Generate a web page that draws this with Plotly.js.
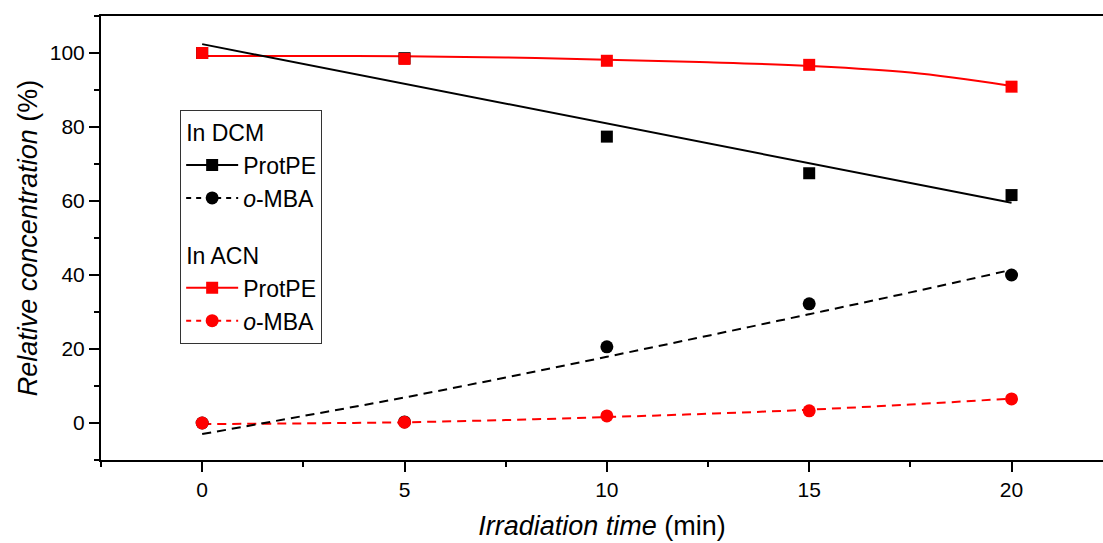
<!DOCTYPE html>
<html>
<head>
<meta charset="utf-8">
<script src="https://cdn.plot.ly/plotly-3.0.1.min.js"></script>
<style>html,body{margin:0;padding:0;background:#fff;}#chart{width:1103px;height:543px;}</style>
</head>
<body>
<div id="chart"></div>
<script>
// Measured data (irradiation time in min, relative concentration in %)
const timeMin = [0, 5, 10, 15, 20];
const dcmProtPE = [100, 98.6, 77.4, 67.5, 61.6];
const dcmMBA = [0, 0.3, 20.6, 32.2, 40.0];
const acnProtPE = [100, 98.4, 97.9, 96.8, 90.9];
const acnMBA = [0, 0.2, 1.9, 3.3, 6.5];

// Fitted curves
const fitX = [0, 2.5, 5, 7.5, 10, 12.5, 15, 17.5, 20];
const fitLinX = [0, 20];
const fitDcmProtPE = [102.4, 59.5];
const fitDcmMBA = [-3.0, 1.9, 6.9, 12.3, 17.9, 23.6, 29.4, 35.3, 41.4];
const fitAcnProtPE = [99.2, 99.2, 99.1, 98.8, 98.2, 97.5, 96.5, 94.7, 91.1];
const fitAcnMBA = [-0.3, -0.1, 0.2, 0.8, 1.6, 2.5, 3.6, 5.0, 6.6];

const xTickVals = [0, 5, 10, 15, 20];
const yTickVals = [0, 20, 40, 60, 80, 100];

const RED = '#ff0000', BLACK = '#000000';
const FONT = 'Liberation Sans, Arial, sans-serif';
const dashStyle = '9px,6px';

const traces = [
  // fit lines
  {x: fitX, y: fitAcnProtPE, mode: 'lines', line: {color: RED, width: 2, shape: 'spline'}, showlegend: false, hoverinfo: 'skip'},
  {x: fitX, y: fitAcnMBA, mode: 'lines', line: {color: RED, width: 2, dash: dashStyle, shape: 'spline'}, showlegend: false, hoverinfo: 'skip'},
  {x: fitLinX, y: fitDcmProtPE, mode: 'lines', line: {color: BLACK, width: 2}, showlegend: false, hoverinfo: 'skip'},
  {x: fitX, y: fitDcmMBA, mode: 'lines', line: {color: BLACK, width: 2, dash: dashStyle, shape: 'spline'}, showlegend: false, hoverinfo: 'skip'},
  // measured markers
  {x: timeMin, y: dcmProtPE, mode: 'markers', marker: {symbol: 'square', size: 12, color: BLACK}, showlegend: false},
  {x: timeMin, y: dcmMBA, mode: 'markers', marker: {symbol: 'circle', size: 13, color: BLACK}, showlegend: false},
  {x: timeMin, y: acnProtPE, mode: 'markers', marker: {symbol: 'square', size: 12, color: RED}, showlegend: false},
  {x: timeMin, y: acnMBA, mode: 'markers', marker: {symbol: 'circle', size: 13, color: RED}, showlegend: false},
  // legend entries
  {x: [null], y: [null], mode: 'lines+markers', name: 'ProtPE', legendgroup: 'dcm',
   legendgrouptitle: {text: 'In DCM', font: {size: 23, family: FONT, color: BLACK}},
   line: {color: BLACK, width: 2}, marker: {symbol: 'square', size: 12, color: BLACK}},
  {x: [null], y: [null], mode: 'lines+markers', name: '<i>o</i>-MBA', legendgroup: 'dcm',
   line: {color: BLACK, width: 2, dash: '5px,5px'}, marker: {symbol: 'circle', size: 13, color: BLACK}},
  {x: [null], y: [null], mode: 'lines+markers', name: 'ProtPE', legendgroup: 'acn',
   legendgrouptitle: {text: 'In ACN', font: {size: 23, family: FONT, color: BLACK}},
   line: {color: RED, width: 2}, marker: {symbol: 'square', size: 12, color: RED}},
  {x: [null], y: [null], mode: 'lines+markers', name: '<i>o</i>-MBA', legendgroup: 'acn',
   line: {color: RED, width: 2, dash: '5px,5px'}, marker: {symbol: 'circle', size: 13, color: RED}}
];

const layout = {
  width: 1103, height: 543,
  margin: {l: 101, r: 0, t: 16, b: 83},
  paper_bgcolor: '#ffffff', plot_bgcolor: '#ffffff',
  font: {family: FONT, color: BLACK, size: 21},
  showlegend: true,
  legend: {
    x: 0.079, y: 0.789, xanchor: 'left', yanchor: 'top',
    bordercolor: '#333333', borderwidth: 1, bgcolor: '#ffffff',
    font: {size: 23, family: FONT, color: BLACK},
    traceorder: 'grouped', tracegroupgap: 24, itemwidth: 52
  },
  xaxis: {
    range: [-2.5, 22.26], showgrid: false, zeroline: false,
    showline: true, linecolor: BLACK, linewidth: 2, mirror: true,
    ticks: 'outside', ticklen: 10, tickwidth: 2, tickcolor: BLACK,
    tickvals: xTickVals, ticktext: xTickVals.map(String),
    tickfont: {size: 21, family: FONT, color: BLACK},
    minor: {ticks: 'outside', ticklen: 5, tickwidth: 2, tickcolor: BLACK, dtick: 2.5, tick0: -2.5, showgrid: false},
    title: {text: '<i>Irradiation time</i> (min)', font: {size: 27, family: FONT, color: BLACK}, standoff: 16}
  },
  yaxis: {
    range: [-10, 110], showgrid: false, zeroline: false,
    showline: true, linecolor: BLACK, linewidth: 2, mirror: false,
    ticks: 'outside', ticklen: 10, tickwidth: 2, tickcolor: BLACK,
    tickvals: yTickVals, ticktext: yTickVals.map(String),
    tickfont: {size: 21, family: FONT, color: BLACK},
    minor: {ticks: 'outside', ticklen: 5, tickwidth: 2, tickcolor: BLACK, dtick: 10, tick0: -10, showgrid: false},
    title: {text: '<i>Relative concentration</i> (%)', font: {size: 27, family: FONT, color: BLACK}, standoff: 4}
  }
};

Plotly.newPlot('chart', traces, layout, {displayModeBar: false, staticPlot: true});
</script>
</body>
</html>
